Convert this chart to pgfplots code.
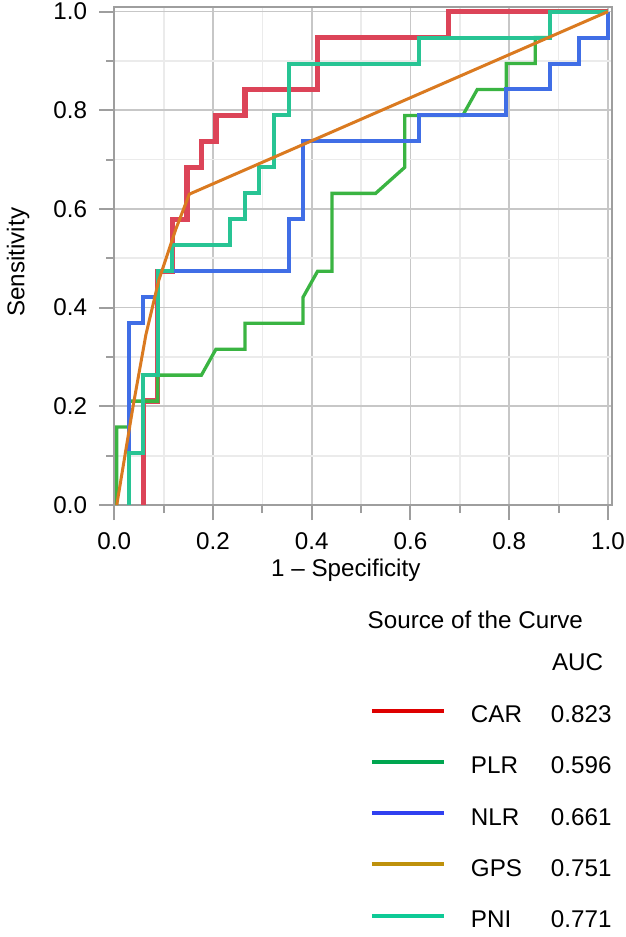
\documentclass[border=0pt]{standalone}
\usepackage{fontspec}
\setmainfont{Liberation Sans}
\usepackage{pgfplots}
\pgfplotsset{compat=1.18}
\definecolor{pred}{RGB}{220,68,88}
\definecolor{pgreen}{RGB}{58,180,66}
\definecolor{pblue}{RGB}{64,110,230}
\definecolor{pteal}{RGB}{40,196,148}
\definecolor{porange}{RGB}{218,122,32}
\definecolor{lred}{RGB}{222,0,0}
\definecolor{lgreen}{RGB}{0,166,80}
\definecolor{lblue}{RGB}{48,64,240}
\definecolor{lgold}{RGB}{190,145,12}
\definecolor{lteal}{RGB}{14,202,150}
\newcommand{\fsz}{\fontsize{12.1}{14.5}\selectfont}
\begin{document}
\begin{tikzpicture}
\useasboundingbox (-57.15pt,-216pt) rectangle (255.85pt,252.5pt);
\begin{axis}[
  name=ax,
  scale only axis,
  width=248.96pt, height=249.2pt,
  xmin=0, xmax=1.0087, ymin=0, ymax=1.0101,
  xtick={0,0.2,0.4,0.6,0.8,1.0},
  ytick={0,0.2,0.4,0.6,0.8,1.0},
  minor xtick={0.1,0.3,0.5,0.7,0.9},
  minor ytick={0.1,0.3,0.5,0.7,0.9},
  grid=both,
  major grid style={color=black!22, line width=0.85pt},
  minor grid style={color=black!8, line width=0.85pt},
  axis line style={color=black!38, line width=1pt},
  tick align=outside,
  xtick pos=bottom, ytick pos=left,
  major tick length=7.5pt, minor tick length=4pt,
  tick style={color=black!38, line width=1pt},
  /pgf/number format/assume math mode=true,
  xticklabel style={font=\fsz, yshift=-3pt, /pgf/number format/.cd, fixed, fixed zerofill, precision=1},
  yticklabel style={font=\fsz, xshift=-2.6pt, /pgf/number format/.cd, fixed, fixed zerofill, precision=1},
  xlabel={1 – Specificity},
  ylabel={Sensitivity},
  xlabel style={font=\fsz, at={(axis description cs:0.465,0)}, anchor=base, yshift=-35.5pt},
  every axis y label/.style={at={(axis description cs:-0.1807,0.487)}, rotate=90, anchor=base, font=\fsz},
  legend style={at={(axis description cs:0.5135,-0.4007)}, anchor=north west, draw=none, fill=none,
    inner sep=0pt, outer sep=0pt, row sep=16.6pt, column sep=12.5pt, font=\fsz,
    nodes={inner sep=0pt, outer sep=0pt, text height=9pt, text depth=0pt, anchor=base west}},
  legend cell align=left,
  legend image code/.code={\draw[#1] (0pt,6pt) -- (36pt,6pt);},
  line join=miter,
]
% CAR
\addplot[pred, line width=2.65pt, forget plot] coordinates {
(0.0588,0) (0.0588,0.2105) (0.0882,0.2105) (0.0882,0.4737) (0.1176,0.4737) (0.1176,0.5789)
(0.1471,0.5789) (0.1471,0.6842) (0.1765,0.6842) (0.1765,0.7368) (0.2059,0.7368) (0.2059,0.7895)
(0.2647,0.7895) (0.2647,0.8421) (0.4118,0.8421) (0.4118,0.9474) (0.6765,0.9474) (0.6765,1) (1,1)};
% PLR
\addplot[pgreen, line width=1.65pt, forget plot] coordinates {
(0.005,0) (0.005,0.1579) (0.0294,0.1579) (0.0294,0.2105) (0.0882,0.2105) (0.0882,0.2632)
(0.1765,0.2632) (0.2059,0.3158) (0.2647,0.3158) (0.2647,0.3684) (0.3824,0.3684) (0.3824,0.4211)
(0.4118,0.4737) (0.4412,0.4737) (0.4412,0.6316) (0.5294,0.6316) (0.5882,0.6842) (0.5882,0.7895)
(0.7059,0.7895) (0.7353,0.8421) (0.7941,0.8421) (0.7941,0.8947) (0.8529,0.8947) (0.8529,0.9474)
(0.8824,0.9474) (0.8824,1) (1,1)};
% NLR
\addplot[pblue, line width=2pt, forget plot] coordinates {
(0.0294,0) (0.0294,0.3684) (0.0588,0.3684) (0.0588,0.4211) (0.0882,0.4211) (0.0882,0.4737)
(0.3529,0.4737) (0.3529,0.5789) (0.3824,0.5789) (0.3824,0.7368) (0.6176,0.7368) (0.6176,0.7895)
(0.7941,0.7895) (0.7941,0.8421) (0.8824,0.8421) (0.8824,0.8947) (0.9412,0.8947) (0.9412,0.9474)
(1,0.9474) (1,1)};
% PNI
\addplot[pteal, line width=2pt, forget plot] coordinates {
(0.0294,0) (0.0294,0.1053) (0.0588,0.1053) (0.0588,0.2632) (0.0882,0.2632) (0.0882,0.4737)
(0.1176,0.4737) (0.1176,0.5263) (0.2353,0.5263) (0.2353,0.5789) (0.2647,0.5789) (0.2647,0.6316)
(0.2941,0.6316) (0.2941,0.6842) (0.3235,0.6842) (0.3235,0.7895) (0.3529,0.7895) (0.3529,0.8947)
(0.6176,0.8947) (0.6176,0.9474) (0.8824,0.9474) (0.8824,1) (1,1)};
% GPS
\addplot[porange, line width=1.5pt, forget plot] coordinates {
(0.005,0) (0.038,0.2) (0.064,0.345) (0.09,0.455) (0.125,0.56) (0.152,0.63) (1,1)};
\addlegendimage{lred, line width=2pt}
\addlegendentry{\makebox[40pt][l]{CAR}0.823}
\addlegendimage{lgreen, line width=2pt}
\addlegendentry{\makebox[40pt][l]{PLR}0.596}
\addlegendimage{lblue, line width=2pt}
\addlegendentry{\makebox[40pt][l]{NLR}0.661}
\addlegendimage{lgold, line width=2pt}
\addlegendentry{\makebox[40pt][l]{GPS}0.751}
\addlegendimage{lteal, line width=2pt}
\addlegendentry{\makebox[40pt][l]{PNI}0.771}
\end{axis}
\node[anchor=base west, inner sep=0pt, font=\fsz] at (126.5pt,-61.65pt) {Source of the Curve};
\node[anchor=base west, inner sep=0pt, font=\fsz] at (218.7pt,-82.5pt) {AUC};
\end{tikzpicture}
\end{document}
